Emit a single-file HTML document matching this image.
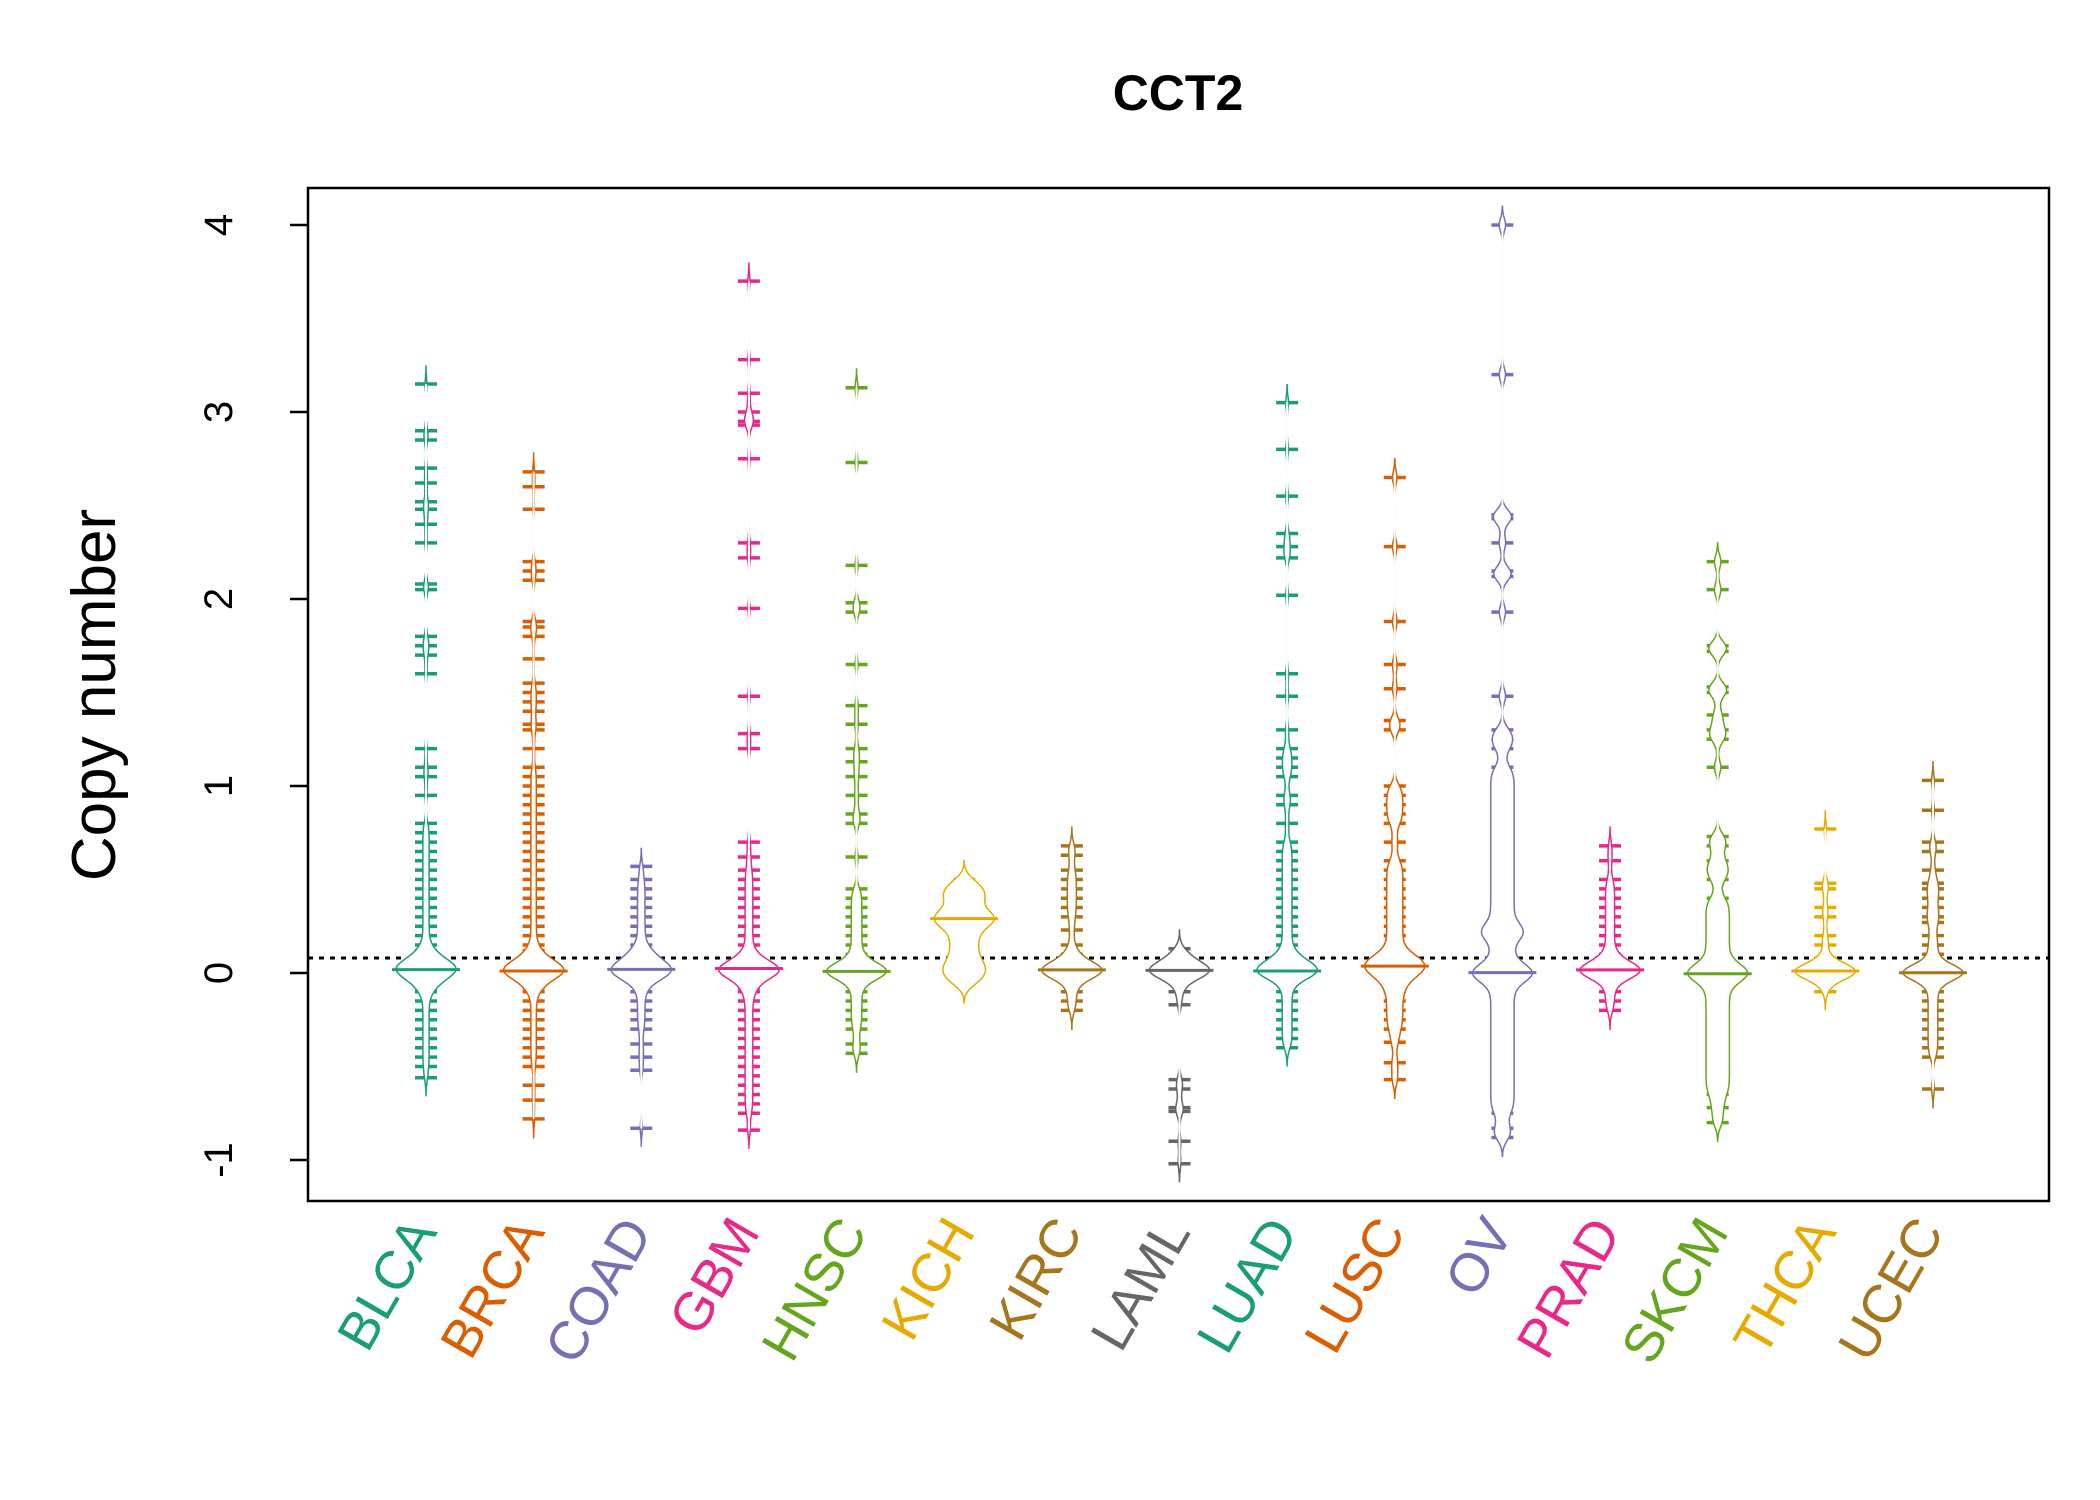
<!DOCTYPE html>
<html><head><meta charset="utf-8"><style>
html,body{margin:0;padding:0;background:#fff}
svg{display:block;font-family:"Liberation Sans",Arial,sans-serif}
</style></head><body>
<svg id="chart" width="2100" height="1500" viewBox="0 0 2100 1500" xmlns="http://www.w3.org/2000/svg">
<rect width="2100" height="1500" fill="#fff"/>
<text x="1178" y="110" font-size="50" font-weight="bold" text-anchor="middle">CCT2</text>
<text transform="translate(115,695) rotate(-90)" font-size="62" text-anchor="middle">Copy number</text>
<g id="plot"></g>
<rect x="308" y="188" width="1741" height="1013" fill="none" stroke="#000" stroke-width="2.5"/>
<g id="axes"></g>
</svg>
<script>
const categories=["BLCA","BRCA","COAD","GBM","HNSC","KICH","KIRC","LAML","LUAD","LUSC","OV","PRAD","SKCM","THCA","UCEC"];
const colors=["#1B9E77","#D95F02","#7570B3","#E7298A","#66A61E","#E6AB02","#A6761D","#666666","#1B9E77","#D95F02","#7570B3","#E7298A","#66A61E","#E6AB02","#A6761D"];
const yTicks=[-1,0,1,2,3,4];
const refLine=0.08;
const vBLCA=[3.15,2.9,2.85,2.7,2.62,2.52,2.48,2.4,2.3,2.08,2.05,1.8,1.75,1.7,1.6,1.2,1.1,1.05,0.95,0.8,0.75,0.7,0.65,0.6,0.55,0.5,0.45,0.4,0.35,0.3,0.25,0.2,0.15,0.12,0.1,0.08,0.06,0.05,0.04,0.03,0.02,0.01,0,0,-0.02,-0.04,-0.06,-0.08,-0.1,-0.15,-0.2,-0.25,-0.3,-0.35,-0.4,-0.45,-0.5,-0.56];
const vBRCA=[2.68,2.6,2.48,2.2,2.15,2.1,1.88,1.85,1.8,1.68,1.55,1.5,1.45,1.4,1.33,1.3,1.2,1.1,1.05,1.0,0.95,0.9,0.85,0.8,0.75,0.7,0.65,0.6,0.55,0.5,0.45,0.4,0.35,0.3,0.25,0.2,0.15,0.12,0.1,0.08,0.06,0.05,0.04,0.03,0.02,0.01,0,0,0,-0.02,-0.04,-0.06,-0.08,-0.1,-0.15,-0.2,-0.25,-0.3,-0.35,-0.4,-0.45,-0.5,-0.6,-0.68,-0.78];
const vCOAD=[0.57,0.5,0.45,0.4,0.35,0.3,0.25,0.2,0.15,0.12,0.1,0.08,0.06,0.05,0.03,0.02,0.01,0,0,-0.02,-0.04,-0.06,-0.1,-0.15,-0.2,-0.25,-0.3,-0.38,-0.45,-0.52,-0.83];
const vGBM=[3.7,3.28,3.1,3.0,2.95,2.93,2.75,2.3,2.22,1.95,1.48,1.28,1.2,0.7,0.62,0.55,0.5,0.45,0.4,0.35,0.3,0.25,0.2,0.15,0.1,0.08,0.06,0.04,0.03,0.02,0.01,0,0,-0.02,-0.04,-0.08,-0.1,-0.15,-0.2,-0.25,-0.3,-0.35,-0.4,-0.45,-0.5,-0.55,-0.6,-0.65,-0.7,-0.75,-0.84];
const vHNSC=[3.13,2.73,2.18,1.98,1.93,1.65,1.43,1.33,1.2,1.13,1.05,0.95,0.85,0.8,0.62,0.45,0.4,0.35,0.3,0.25,0.2,0.15,0.1,0.06,0.04,0.02,0.01,0,0,-0.02,-0.05,-0.1,-0.15,-0.2,-0.25,-0.3,-0.38,-0.43];
const vKICH=[0.5,0.45,0.42,0.38,0.33,0.3,0.28,0.25,0.2,0.15,0.1,0.05,0.02,-0.02,-0.06];
const vKIRC=[0.68,0.63,0.55,0.5,0.45,0.4,0.35,0.3,0.23,0.15,0.1,0.07,0.05,0.03,0.02,0.01,0,0,-0.02,-0.05,-0.1,-0.15,-0.2];
const vLAML=[0.13,0.1,0.07,0.05,0.03,0.02,0.01,0,0,-0.02,-0.05,-0.1,-0.17,-0.57,-0.62,-0.72,-0.74,-0.9,-1.02];
const vLUAD=[3.05,2.8,2.55,2.35,2.28,2.22,2.02,1.6,1.48,1.3,1.2,1.15,1.1,1.05,0.95,0.9,0.8,0.7,0.65,0.6,0.55,0.5,0.45,0.4,0.35,0.3,0.25,0.2,0.15,0.1,0.08,0.06,0.04,0.02,0.01,0,0,-0.02,-0.05,-0.1,-0.15,-0.2,-0.25,-0.3,-0.35,-0.4];
const vLUSC=[2.65,2.28,1.88,1.65,1.52,1.35,1.3,1.0,0.95,0.9,0.85,0.8,0.7,0.6,0.55,0.5,0.45,0.4,0.35,0.3,0.25,0.2,0.15,0.1,0.08,0.06,0.04,0.02,0,-0.02,-0.06,-0.1,-0.15,-0.2,-0.25,-0.3,-0.37,-0.48,-0.57];
const vOV=[4.0,3.2,2.45,2.43,2.3,2.15,2.12,1.93,1.48,1.3,1.25,1.2,1.1,1.05,1.0,0.95,0.9,0.85,0.8,0.75,0.7,0.65,0.6,0.55,0.5,0.45,0.4,0.35,0.3,0.25,0.22,0.2,0.15,0.1,0.05,0.02,0,-0.02,-0.05,-0.1,-0.15,-0.2,-0.25,-0.3,-0.35,-0.4,-0.45,-0.5,-0.55,-0.6,-0.65,-0.7,-0.75,-0.83,-0.88];
const vPRAD=[0.68,0.6,0.5,0.45,0.4,0.35,0.3,0.25,0.2,0.15,0.1,0.07,0.05,0.03,0.02,0.01,0,0,-0.02,-0.05,-0.1,-0.15,-0.2];
const vSKCM=[2.2,2.05,1.75,1.72,1.53,1.5,1.38,1.3,1.25,1.1,0.73,0.68,0.6,0.55,0.5,0.4,0.35,0.3,0.25,0.2,0.15,0.1,0.05,0.02,0,-0.02,-0.05,-0.1,-0.15,-0.2,-0.25,-0.3,-0.35,-0.4,-0.45,-0.5,-0.55,-0.6,-0.65,-0.72,-0.8];
const vTHCA=[0.77,0.48,0.45,0.35,0.3,0.2,0.15,0.08,0.05,0.03,0.02,0.01,0,0,0,-0.02,-0.05,-0.1];
const vUCEC=[1.03,0.87,0.7,0.65,0.55,0.48,0.45,0.4,0.35,0.3,0.27,0.2,0.15,0.1,0.05,0.02,0.01,0,0,0,-0.02,-0.05,-0.1,-0.15,-0.2,-0.25,-0.3,-0.35,-0.4,-0.45,-0.62];
const series=[vBLCA,vBRCA,vCOAD,vGBM,vHNSC,vKICH,vKIRC,vLAML,vLUAD,vLUSC,vOV,vPRAD,vSKCM,vTHCA,vUCEC];

const NS="http://www.w3.org/2000/svg";
const X0=426,DX=107.64,Y0=973,YU=187;
function xs(i){return X0+i*DX;}
function ys(v){return Y0-v*YU;}
const plot=document.getElementById('plot'),axes=document.getElementById('axes');
function mk(tag,attrs,parent){const e=document.createElementNS(NS,tag);for(const k in attrs)e.setAttribute(k,attrs[k]);parent.appendChild(e);return e;}

const ref=mk('line',{x1:308,x2:2049,y1:ys(refLine),y2:ys(refLine),stroke:'#000','stroke-width':3,'stroke-dasharray':'5,6'},plot);



series.forEach((vals,i)=>{
  const cx=xs(i),col=colors[i];
  const g=mk('g',{},plot);
  
  
  const mn=Math.min(...vals)-0.1,mx=Math.max(...vals)+0.1,bw=0.045;
  const pts=[];let maxd=0,modeY=0;
  for(let k=0;k<=300;k++){const y=mn+(mx-mn)*k/300;let d=0;vals.forEach(v=>{d+=Math.exp(-0.5*((y-v)/bw)**2);});pts.push([y,d]);if(d>maxd){maxd=d;modeY=y;}}
  const W=30;
  vals.forEach(v=>{
    const l=mk('line',{x1:cx-11,x2:cx+11,y1:ys(v),y2:ys(v),stroke:col,'stroke-width':3.5},g);
    
    
  });
  const wf=d=>W*Math.pow(d/maxd,1.6);
  let d='M';
  pts.forEach(p=>{d+=(cx+wf(p[1])).toFixed(1)+','+ys(p[0]).toFixed(1)+' L';});
  for(let k=pts.length-1;k>=0;k--){d+=(cx-wf(pts[k][1])).toFixed(1)+','+ys(pts[k][0]).toFixed(1)+(k?' L':' Z');}
  const b=mk('path',{d:d,fill:'#fff',stroke:col,'stroke-width':1.5},g);
  
  
  const c=mk('line',{x1:cx,x2:cx,y1:ys(Math.max(...vals)),y2:ys(Math.min(...vals)),stroke:'#fff','stroke-width':2},g);
  
  
  const m=mk('line',{x1:cx-34,x2:cx+34,y1:ys(modeY),y2:ys(modeY),stroke:col,'stroke-width':3},g);
  
  
  const t=mk('text',{transform:`translate(${cx+12},1232) rotate(-60)`,'font-size':54,'text-anchor':'end',fill:col},axes);
  t.textContent=categories[i];
  
  
});

yTicks.forEach(v=>{
  const y=ys(v);
  const tk=mk('line',{x1:290,x2:308,y1:y,y2:y,stroke:'#000','stroke-width':2.5},axes);
  
  
  const t=mk('text',{transform:`translate(232,${y}) rotate(-90)`,'font-size':40,'text-anchor':'middle'},axes);
  t.textContent=v;
  
  
});
</script>
</body></html>
